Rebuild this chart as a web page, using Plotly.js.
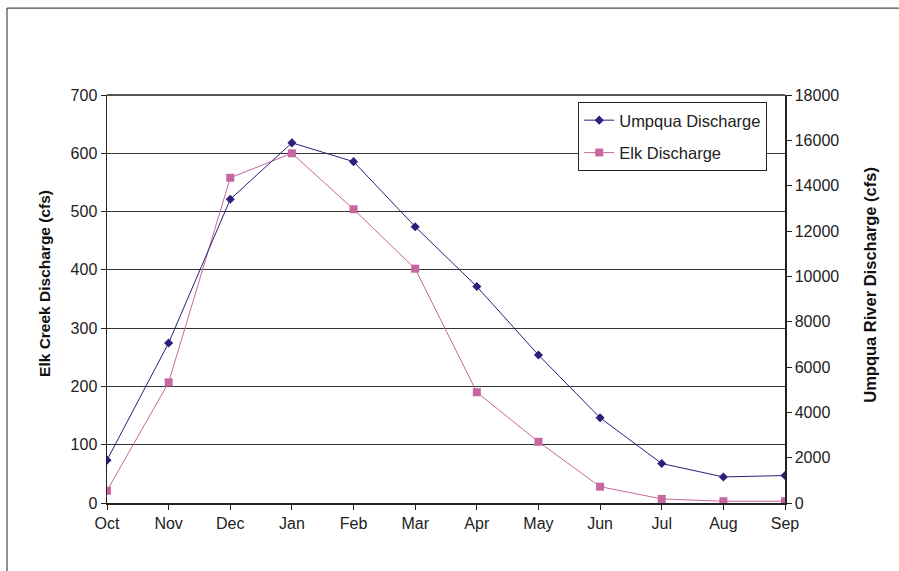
<!DOCTYPE html>
<html>
<head>
<meta charset="utf-8">
<script src="https://cdn.plot.ly/plotly-3.0.1.min.js"></script>
<style>
html,body{margin:0;padding:0;background:#fff;}
#chart{width:899px;height:571px;}
</style>
</head>
<body>
<div id="chart"></div>
<script>
const months = ["Oct","Nov","Dec","Jan","Feb","Mar","Apr","May","Jun","Jul","Aug","Sep"];
const umpquaDischarge = [1890, 7060, 13400, 15890, 15060, 12190, 9550, 6530, 3760, 1740, 1150, 1210];
const elkDischarge = [21, 207, 558, 600, 504, 402, 190, 105, 28, 7, 3, 3];
const leftTicks = [0,100,200,300,400,500,600,700];
const rightTicks = [0,2000,4000,6000,8000,10000,12000,14000,16000,18000];
const leftTitle = "Elk Creek Discharge (cfs)";
const rightTitle = "Umpqua River Discharge (cfs)";

const FONT = "Liberation Sans, Arial, sans-serif";

const traces = [
  {
    x: months, y: umpquaDischarge, name: "Umpqua Discharge", yaxis: "y2",
    legendgroup: "a",
    type: "scatter", mode: "lines+markers",
    line: {color: "#2f1d7c", width: 1},
    marker: {symbol: "diamond", size: 7, color: "#2f1d7c"}
  },
  {
    x: months, y: elkDischarge, name: "Elk Discharge", yaxis: "y",
    legendgroup: "b",
    type: "scatter", mode: "lines+markers",
    line: {color: "#c8669e", width: 1},
    marker: {symbol: "square", size: 8, color: "#c8669e"}
  }
];

const layout = {
  width: 899, height: 571,
  margin: {l: 107, r: 114, t: 95, b: 68},
  paper_bgcolor: "#fff", plot_bgcolor: "#fff",
  font: {family: FONT, size: 16, color: "#222"},
  showlegend: true,
  legend: {
    x: 0.695, y: 0.983, xanchor: "left", yanchor: "top",
    bgcolor: "#fff", bordercolor: "#222", borderwidth: 1,
    font: {family: FONT, size: 16.5, color: "#222"},
    traceorder: "grouped", tracegroupgap: 8
  },
  xaxis: {
    type: "category", range: [0, 11],
    showgrid: false, zeroline: false,
    showline: true, linecolor: "#222", linewidth: 1.5,
    ticks: "outside", ticklen: 5, tickcolor: "#222",
    tickfont: {family: FONT, size: 16, color: "#222"}
  },
  yaxis: {
    range: [0, 700], tickvals: leftTicks, ticktext: leftTicks.map(String),
    showgrid: true, gridcolor: "#333", gridwidth: 1,
    zeroline: false, showline: true, linecolor: "#222", linewidth: 1.5,
    ticks: "outside", ticklen: 5, tickcolor: "#222",
    tickfont: {family: FONT, size: 16, color: "#222"}
  },
  yaxis2: {
    overlaying: "y", side: "right",
    range: [0, 18000], tickvals: rightTicks, ticktext: rightTicks.map(String),
    showgrid: false, zeroline: false,
    showline: true, linecolor: "#222", linewidth: 1.5,
    ticks: "outside", ticklen: 5, tickcolor: "#222",
    tickfont: {family: FONT, size: 16, color: "#222"}
  },
  annotations: [
    {text: "<b>" + leftTitle + "</b>", xref: "paper", yref: "paper", x: -0.0914, y: 0.537,
     xanchor: "center", yanchor: "middle", textangle: -90, showarrow: false,
     font: {family: FONT, size: 15.5, color: "#111"}},
    {text: "<b>" + rightTitle + "</b>", xref: "paper", yref: "paper", x: 1.1254, y: 0.535,
     xanchor: "center", yanchor: "middle", textangle: -90, showarrow: false,
     font: {family: FONT, size: 16.5, color: "#111"}}
  ],
  shapes: [
    {type: "line", xref: "paper", yref: "paper", x0: -0.1475, x1: -0.1475, y0: 1.213, y1: -0.2, line: {color: "#222", width: 1}},
    {type: "line", xref: "paper", yref: "paper", x0: -0.1475, x1: 1.2, y0: 1.213, y1: 1.213, line: {color: "#222", width: 1}},
    {type: "line", xref: "paper", yref: "paper", x0: 0, x1: 1, y0: 1, y1: 1, line: {color: "#555", width: 2}}
  ]
};

Plotly.newPlot("chart", traces, layout, {displayModeBar: false, staticPlot: true});
</script>
</body>
</html>
